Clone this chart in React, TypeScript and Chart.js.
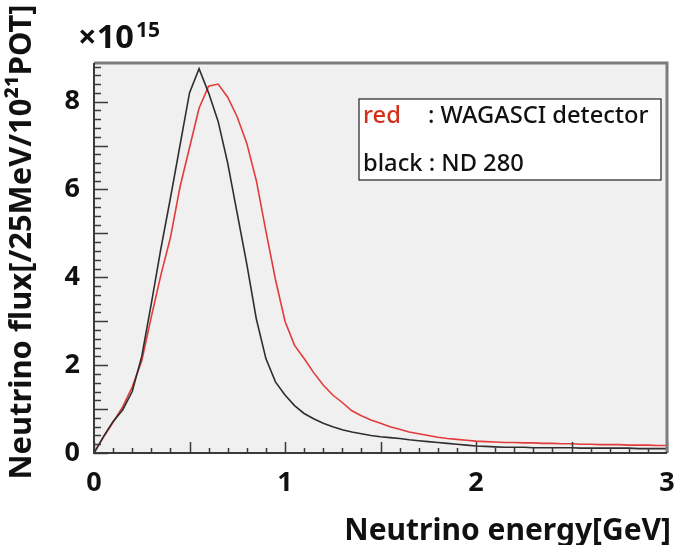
import React, { useEffect, useRef } from 'react';
import { Chart, registerables } from 'chart.js';

Chart.register(...registerables);

// Neutrino energy bin centres [GeV]
const energyGeV = [
  0.0, 0.05, 0.1, 0.15, 0.2, 0.25, 0.3, 0.35, 0.4, 0.45,
  0.5, 0.55, 0.6, 0.65, 0.7, 0.75, 0.8, 0.85, 0.9, 0.95,
  1.0, 1.05, 1.1, 1.15, 1.2, 1.25, 1.3, 1.35, 1.4, 1.45,
  1.5, 1.55, 1.6, 1.65, 1.7, 1.75, 1.8, 1.85, 1.9, 1.95,
  2.0, 2.05, 2.1, 2.15, 2.2, 2.25, 2.3, 2.35, 2.4, 2.45,
  2.5, 2.55, 2.6, 2.65, 2.7, 2.75, 2.8, 2.85, 2.9, 2.95,
  3.0,
];

// black : ND 280 flux [x10^15 /25MeV/10^21POT]
const nd280Flux = [
  0.0, 0.38, 0.72, 0.98, 1.4, 2.2, 3.4, 4.65, 5.8, 7.0,
  8.2, 8.75, 8.2, 7.55, 6.6, 5.45, 4.3, 3.05, 2.15, 1.62,
  1.32, 1.08, 0.9, 0.78, 0.68, 0.6, 0.53, 0.48, 0.44, 0.4,
  0.37, 0.35, 0.33, 0.3, 0.28, 0.26, 0.24, 0.22, 0.2, 0.18,
  0.16, 0.15, 0.14, 0.13, 0.13, 0.13, 0.12, 0.12, 0.12, 0.12,
  0.12, 0.11, 0.11, 0.11, 0.11, 0.11, 0.11, 0.1, 0.1, 0.1,
  0.1,
];

// red : WAGASCI detector flux [x10^15 /25MeV/10^21POT]
const wagasciFlux = [
  0.0, 0.36, 0.7, 1.05, 1.5, 2.1, 3.1, 4.05, 4.9, 6.05,
  6.95, 7.85, 8.35, 8.4, 8.1, 7.65, 7.05, 6.2, 5.05, 3.95,
  3.0, 2.45, 2.15, 1.83, 1.55, 1.32, 1.15, 0.96, 0.85, 0.75,
  0.68, 0.6, 0.54, 0.48, 0.44, 0.4, 0.36, 0.33, 0.31, 0.29,
  0.27, 0.26, 0.25, 0.24, 0.24, 0.23, 0.23, 0.22, 0.22, 0.21,
  0.21, 0.2, 0.2, 0.19, 0.19, 0.19, 0.18, 0.18, 0.18, 0.17,
  0.17,
];

const yTickLabels = ['0', '2', '4', '6', '8'];
const xTickLabels = ['0', '1', '2', '3'];
const legendLabels = ['red', ': WAGASCI detector', 'black : ND 280'];
const yTitle = 'Neutrino flux[/25MeV/10\u00B2\u00B9POT]';
const xTitle = 'Neutrino energy[GeV]';
const exponentBase = '\u00D710';
const exponentPower = '15';

const FONT = '"Noto Sans", "DejaVu Sans", sans-serif';
const RED = '#e23b3b';
const BLACK = '#2e2e2e';

function fitFont(ctx: CanvasRenderingContext2D, text: string, weight: string, width: number) {
  ctx.font = `${weight} 30px ${FONT}`;
  const w = ctx.measureText(text).width;
  const size = (30 * width) / w;
  ctx.font = `${weight} ${size.toFixed(1)}px ${FONT}`;
  return size;
}

export default function App() {
  const ref = useRef<HTMLCanvasElement | null>(null);

  useEffect(() => {
    if (!ref.current) return;

    const decorPlugin = {
      id: 'decor',
      beforeDraw(chart: any) {
        const { ctx, chartArea: a } = chart;
        ctx.save();
        ctx.fillStyle = '#ffffff';
        ctx.fillRect(0, 0, chart.width, chart.height);
        ctx.fillStyle = '#f0f0f0';
        ctx.fillRect(a.left, a.top, a.right - a.left, a.bottom - a.top);
        ctx.restore();
      },
      afterDatasetsDraw(chart: any) {
        const { ctx, chartArea: a } = chart;
        const xs = chart.scales.x;
        const ys = chart.scales.y;
        ctx.save();
        ctx.strokeStyle = '#3a3a3a';
        ctx.lineWidth = 1.5;
        for (let i = 0; i <= 44; i++) {
          const v = i * 0.2;
          if (v > ys.max) break;
          const py = Math.round(ys.getPixelForValue(v)) + 0.5;
          const len = i % 5 === 0 ? 14 : 7;
          ctx.beginPath();
          ctx.moveTo(a.left, py);
          ctx.lineTo(a.left + len, py);
          ctx.stroke();
        }
        for (let i = 0; i <= 30; i++) {
          const v = i * 0.1;
          const px = Math.round(xs.getPixelForValue(v)) + 0.5;
          const len = i % 5 === 0 ? 11 : 5;
          ctx.beginPath();
          ctx.moveTo(px, a.bottom);
          ctx.lineTo(px, a.bottom - len);
          ctx.stroke();
        }
        ctx.strokeStyle = '#7d7d7d';
        ctx.lineWidth = 3;
        ctx.beginPath();
        ctx.moveTo(a.left, a.top);
        ctx.lineTo(a.right, a.top);
        ctx.lineTo(a.right, a.bottom);
        ctx.stroke();
        ctx.strokeStyle = '#3a3a3a';
        ctx.lineWidth = 2;
        ctx.beginPath();
        ctx.moveTo(a.left, a.top);
        ctx.lineTo(a.left, a.bottom);
        ctx.lineTo(a.right, a.bottom);
        ctx.stroke();
        ctx.restore();
      },
      afterDraw(chart: any) {
        const { ctx } = chart;
        ctx.save();
        ctx.fillStyle = '#111111';
        ctx.textBaseline = 'alphabetic';
        // y title
        fitFont(ctx, yTitle, 'bold', 475);
        ctx.translate(31, 242);
        ctx.rotate(-Math.PI / 2);
        ctx.textAlign = 'center';
        ctx.fillText(yTitle, 0, 0);
        ctx.setTransform(1, 0, 0, 1, 0, 0);
        // x title
        fitFont(ctx, xTitle, 'bold', 327);
        ctx.textAlign = 'right';
        ctx.fillText(xTitle, 671, 540);
        // exponent
        ctx.textAlign = 'left';
        fitFont(ctx, exponentBase, 'bold', 56);
        ctx.fillText(exponentBase, 78, 48);
        fitFont(ctx, exponentPower, 'bold', 24);
        ctx.fillText(exponentPower, 136, 37);
        // legend box
        ctx.fillStyle = '#ffffff';
        ctx.fillRect(359, 99, 302, 81);
        ctx.strokeStyle = '#222222';
        ctx.lineWidth = 1.2;
        ctx.strokeRect(359, 99, 302, 81);
        fitFont(ctx, legendLabels[1], '500', 221);
        ctx.fillStyle = '#d2301a';
        ctx.fillText(legendLabels[0], 363, 123);
        ctx.fillStyle = '#111111';
        ctx.fillText(legendLabels[1], 428, 123);
        ctx.fillText(legendLabels[2], 363, 171);
        ctx.restore();
      },
    };

    const chart = new Chart(ref.current, {
      type: 'line',
      data: {
        datasets: [
          {
            label: 'black : ND 280',
            data: energyGeV.map((e, i) => ({ x: e, y: nd280Flux[i] })),
            borderColor: BLACK,
            borderWidth: 1.6,
            pointRadius: 0,
            tension: 0,
            fill: false,
          },
          {
            label: 'red : WAGASCI detector',
            data: energyGeV.map((e, i) => ({ x: e, y: wagasciFlux[i] })),
            borderColor: RED,
            borderWidth: 1.6,
            pointRadius: 0,
            tension: 0,
            fill: false,
          },
        ],
      },
      options: {
        responsive: false,
        animation: false,
        devicePixelRatio: 1,
        layout: { padding: { top: 63, right: 9, left: 0, bottom: 0 } },
        plugins: {
          legend: { display: false },
          tooltip: { enabled: false },
          title: { display: false },
        },
        scales: {
          x: {
            type: 'linear',
            min: 0,
            max: 3,
            grid: { display: false, drawTicks: false },
            border: { display: false },
            ticks: {
              stepSize: 1,
              padding: 14,
              color: '#111111',
              font: { family: FONT, size: 27, weight: 'bold' },
              maxRotation: 0,
              autoSkip: false,
              callback: (v: any) => {
                const s = String(Math.round(Number(v)));
                return Number.isInteger(Number(v)) && xTickLabels.includes(s) ? s : '';
              },
            },
            afterFit: (s: any) => {
              s.height = 92;
              s.paddingLeft = 0;
              s.paddingRight = 0;
            },
          },
          y: {
            type: 'linear',
            min: 0,
            max: 8.88,
            grid: { display: false, drawTicks: false },
            border: { display: false },
            ticks: {
              stepSize: 1,
              padding: 14,
              color: '#111111',
              font: { family: FONT, size: 27, weight: 'bold' },
              autoSkip: false,
              callback: (v: any) => {
                const s = String(Math.round(Number(v)));
                return Number.isInteger(Number(v)) && yTickLabels.includes(s) ? s : '';
              },
            },
            afterFit: (s: any) => {
              s.width = 94;
              s.paddingTop = 0;
              s.paddingBottom = 0;
            },
          },
        },
      },
      plugins: [decorPlugin],
    });

    return () => chart.destroy();
  }, []);

  return (
    <div style={{ position: 'absolute', left: 0, top: 0, width: 676, height: 545, background: '#fff' }}>
      <canvas ref={ref} width={676} height={545} style={{ display: 'block', width: 676, height: 545 }} />
    </div>
  );
}
